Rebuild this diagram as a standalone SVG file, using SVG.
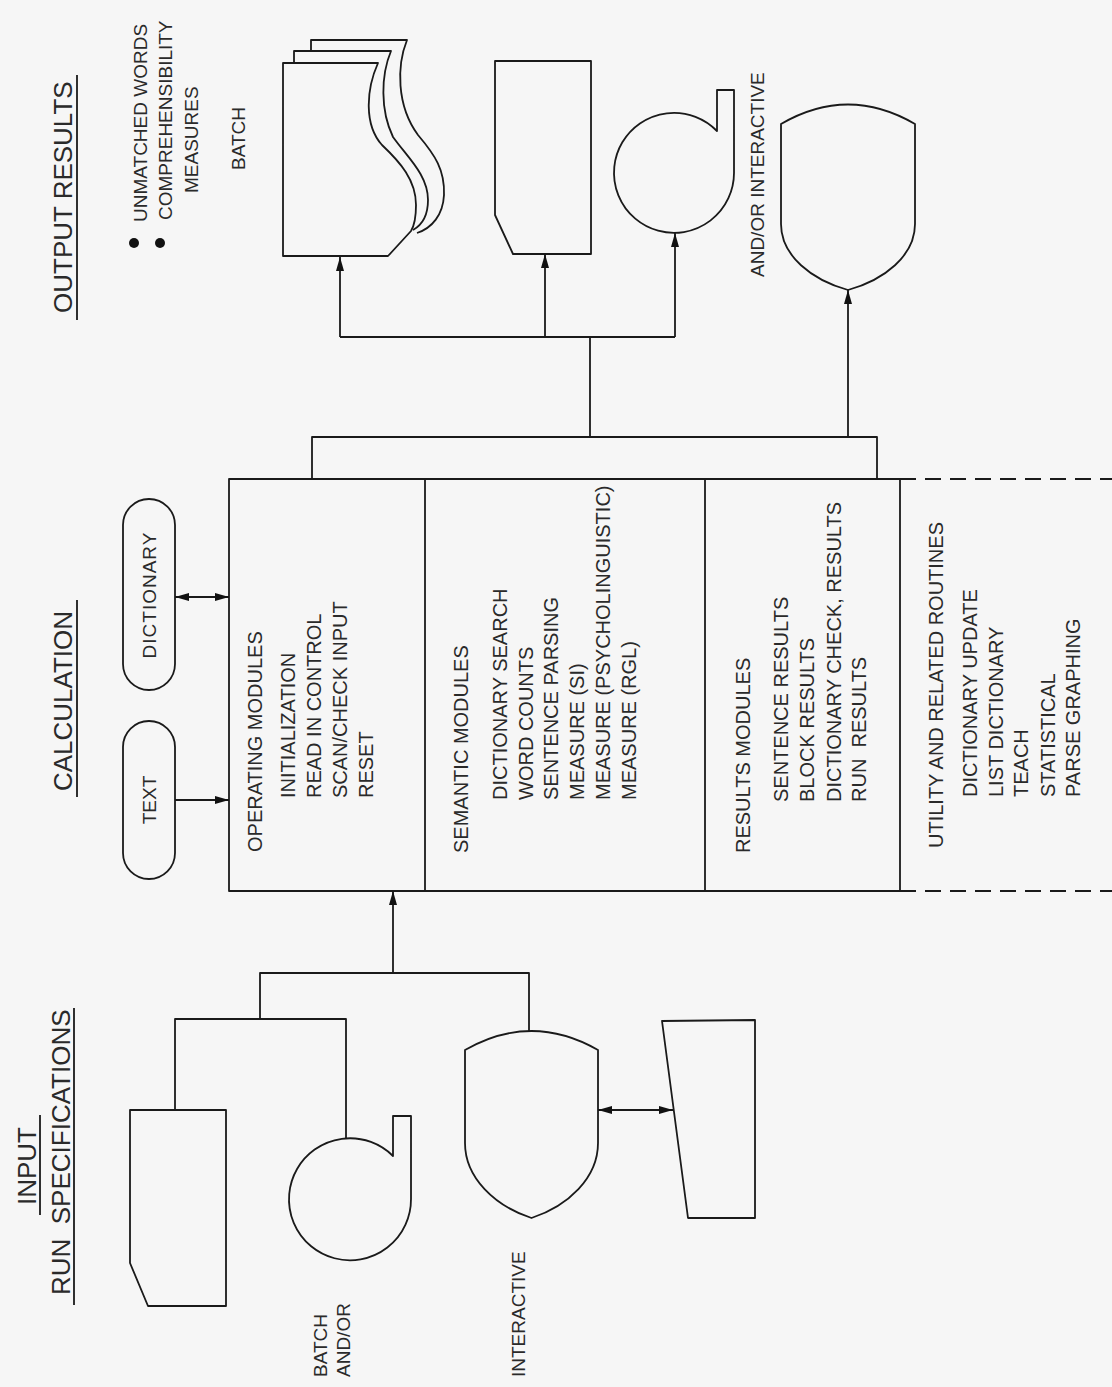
<svg xmlns="http://www.w3.org/2000/svg" width="1112" height="1387" viewBox="0 0 1112 1387">
<defs>
<style>
.ln{fill:none;stroke:#1a1a1a;stroke-width:1.8;stroke-linejoin:round}
.dash{fill:none;stroke:#1a1a1a;stroke-width:1.8;stroke-dasharray:16 9}
.t{font-family:"Liberation Sans",Arial,sans-serif;font-size:20px;fill:#2a2a2a}
.s{font-family:"Liberation Sans",Arial,sans-serif;font-size:19px;fill:#2a2a2a}
.h{font-family:"Liberation Sans",Arial,sans-serif;font-size:26px;fill:#2a2a2a}
</style>
<marker id="ah" viewBox="0 0 14 8" refX="14" refY="4" markerWidth="14" markerHeight="8" markerUnits="userSpaceOnUse" orient="auto-start-reverse"><path d="M0,0 L14,4 L0,8 Z" fill="#111"/></marker>
</defs>
<rect width="1112" height="1387" fill="#f6f6f6"/>

<g id="headers">
<text class="h" transform="translate(72,313) rotate(-90)">OUTPUT RESULTS</text>
<line class="ln" x1="77" y1="75" x2="77" y2="320"/>
<text class="h" transform="translate(72,701) rotate(-90)" text-anchor="middle">CALCULATION</text>
<line class="ln" x1="77" y1="600" x2="77" y2="797"/>
<text class="h" transform="translate(36,1166) rotate(-90)" text-anchor="middle">INPUT</text>
<line class="ln" x1="40" y1="1115" x2="40" y2="1215"/>
<text class="h" transform="translate(70,1295) rotate(-90)" xml:space="preserve">RUN  SPECIFICATIONS</text>
<line class="ln" x1="74" y1="1008" x2="74" y2="1305"/>
</g>

<g id="output-notes">
<circle cx="134" cy="243" r="5" fill="#111"/>
<circle cx="160" cy="243" r="5" fill="#111"/>
<text class="s" transform="translate(147,222) rotate(-90)">UNMATCHED WORDS</text>
<text class="s" transform="translate(172,220) rotate(-90)">COMPREHENSIBILITY</text>
<text class="s" transform="translate(198,193) rotate(-90)">MEASURES</text>
<text class="s" transform="translate(245,170) rotate(-90)">BATCH</text>
<text class="s" transform="translate(764,277) rotate(-90)">AND/OR INTERACTIVE</text>
</g>

<g id="out-docs">
<path class="ln" d="M311,51 L311,40 L407,40 C397,65 396,105 418,135 C435,155 445,170 444,195 C443,215 432,228 417,233"/>
<path class="ln" d="M294,63 L294,51 L391,51 C381,75 380,110 393,137 C408,158 428,175 428,200 C428,215 422,225 413,230"/>
<path class="ln" d="M283,63 L378,63 C366,90 364,125 382,145 C400,162 416,180 416,205 C416,218 414,226 411,231 L388,256 L283,256 Z"/>
</g>
<g id="out-card"><path class="ln" d="M495,61 L591,61 L591,254 L513,254 L495,215 Z"/></g>
<g id="out-tape"><path class="ln" d="M717,131 A60,60 0 1 0 734,173 L734,90 L717,90 Z"/></g>
<g id="out-display"><path class="ln" d="M781,124 Q848,85 915,124 L915,224 C915,256 884,280 848,290 C812,280 781,256 781,224 Z"/></g>

<g id="calc-text"><rect class="ln" x="123" y="721" width="52" height="158" rx="26"/><text class="s" transform="translate(156,800) rotate(-90)" text-anchor="middle">TEXT</text></g>
<g id="calc-dictionary"><rect class="ln" x="123" y="499" width="52" height="191" rx="26"/><text class="s" transform="translate(156,595) rotate(-90)" text-anchor="middle" letter-spacing="1">DICTIONARY</text></g>

<g id="main-box">
<path class="ln" d="M900,479 L229,479 L229,891 L900,891"/>
<line class="ln" x1="425" y1="479" x2="425" y2="891"/>
<line class="ln" x1="705" y1="479" x2="705" y2="891"/>
<line class="ln" x1="900" y1="479" x2="900" y2="891"/>
<line class="dash" x1="900" y1="479" x2="1112" y2="479"/>
<line class="dash" x1="900" y1="891" x2="1112" y2="891"/>
</g>
<g id="operating">
<text class="t" transform="translate(262,852) rotate(-90)">OPERATING MODULES</text>
<text class="t" transform="translate(295,798) rotate(-90)">INITIALIZATION</text>
<text class="t" transform="translate(321,798) rotate(-90)">READ IN CONTROL</text>
<text class="t" transform="translate(347,798) rotate(-90)">SCAN/CHECK INPUT</text>
<text class="t" transform="translate(373,798) rotate(-90)">RESET</text>
</g>
<g id="semantic">
<text class="t" transform="translate(468,853) rotate(-90)">SEMANTIC MODULES</text>
<text class="t" transform="translate(507,800) rotate(-90)">DICTIONARY SEARCH</text>
<text class="t" transform="translate(533,800) rotate(-90)">WORD COUNTS</text>
<text class="t" transform="translate(558,800) rotate(-90)">SENTENCE PARSING</text>
<text class="t" transform="translate(584,800) rotate(-90)">MEASURE (SI)</text>
<text class="t" transform="translate(610,800) rotate(-90)">MEASURE (PSYCHOLINGUISTIC)</text>
<text class="t" transform="translate(636,800) rotate(-90)">MEASURE (RGL)</text>
</g>
<g id="results">
<text class="t" transform="translate(750,853) rotate(-90)">RESULTS MODULES</text>
<text class="t" transform="translate(788,802) rotate(-90)">SENTENCE RESULTS</text>
<text class="t" transform="translate(814,802) rotate(-90)">BLOCK RESULTS</text>
<text class="t" transform="translate(841,802) rotate(-90)">DICTIONARY CHECK, RESULTS</text>
<text class="t" transform="translate(866,802) rotate(-90)" xml:space="preserve">RUN  RESULTS</text>
</g>
<g id="utility">
<text class="t" transform="translate(943,848) rotate(-90)">UTILITY AND RELATED ROUTINES</text>
<text class="t" transform="translate(977,797) rotate(-90)">DICTIONARY UPDATE</text>
<text class="t" transform="translate(1003,797) rotate(-90)">LIST DICTIONARY</text>
<text class="t" transform="translate(1028,797) rotate(-90)">TEACH</text>
<text class="t" transform="translate(1055,797) rotate(-90)">STATISTICAL</text>
<text class="t" transform="translate(1080,797) rotate(-90)">PARSE GRAPHING</text>
</g>

<g id="in-card"><path class="ln" d="M130,1110 L226,1110 L226,1306 L148,1306 L130,1263 Z"/></g>
<g id="in-tape"><path class="ln" d="M393,1156 A61,61 0 1 0 411,1199 L411,1116 L393,1116 Z"/></g>
<g id="in-display"><path class="ln" d="M465,1050 Q531.5,1012 598,1050 L598,1143 C598,1178 568,1206 531.5,1218 C495,1206 465,1178 465,1143 Z"/></g>
<g id="in-keyboard"><path class="ln" d="M662,1021 L755,1020 L755,1218 L688,1218 Z"/></g>
<g id="input-labels">
<text class="s" transform="translate(327,1377) rotate(-90)">BATCH</text>
<text class="s" transform="translate(350,1377) rotate(-90)">AND/OR</text>
<text class="s" transform="translate(525,1377) rotate(-90)">INTERACTIVE</text>
</g>

<g id="connectors">
<path class="ln" d="M340,337 H675"/>
<path class="ln" d="M340,337 V257" marker-end="url(#ah)"/>
<path class="ln" d="M545,337 V254" marker-end="url(#ah)"/>
<path class="ln" d="M675,337 V233" marker-end="url(#ah)"/>
<path class="ln" d="M590,337 V437"/>
<path class="ln" d="M312,479 V437 H877 V479"/>
<path class="ln" d="M848,437 V290" marker-end="url(#ah)"/>
<path class="ln" d="M175,800 H229" marker-end="url(#ah)"/>
<path class="ln" d="M175,597 H229" marker-start="url(#ah)" marker-end="url(#ah)"/>
<path class="ln" d="M175,1110 V1019 H346 V1138"/>
<path class="ln" d="M260,1019 V973 H529 V1031"/>
<path class="ln" d="M393,973 V891" marker-end="url(#ah)"/>
<path class="ln" d="M598,1110 H673" marker-start="url(#ah)" marker-end="url(#ah)"/>
</g>
</svg>
